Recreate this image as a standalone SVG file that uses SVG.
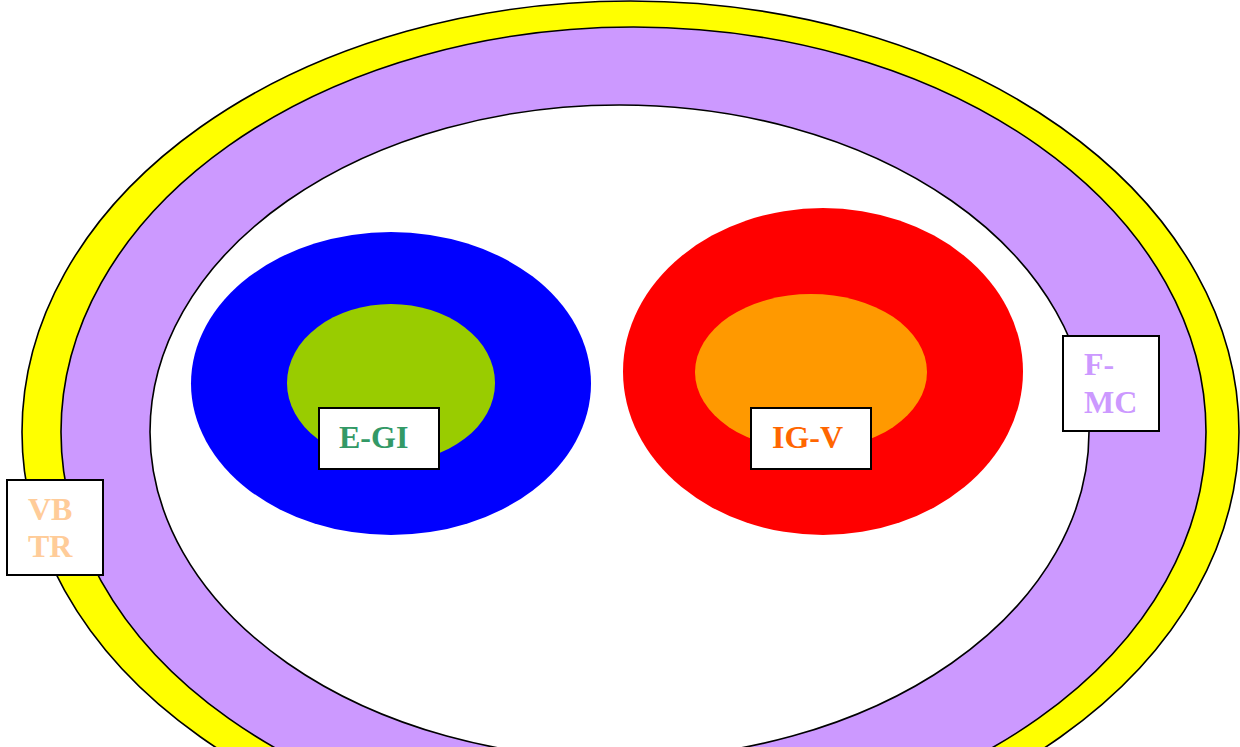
<svg xmlns="http://www.w3.org/2000/svg" width="1240" height="747" viewBox="0 0 1240 747">
<style>
.ring{stroke:#000;stroke-width:1.6}
.box{fill:#fff;stroke:#000;stroke-width:2}
.lbl{font-family:"Liberation Serif","Times New Roman",serif;font-weight:bold;font-size:32px}
</style>
<rect width="1240" height="747" fill="#fff"/>
<g id="outer-yellow"><ellipse class="ring" cx="630.5" cy="432" rx="608.5" ry="431" fill="#FFFF00"/></g>
<g id="purple-ring"><ellipse class="ring" cx="633.5" cy="432" rx="572.5" ry="405" fill="#CC99FF"/></g>
<g id="inner-white"><ellipse class="ring" cx="619.5" cy="432" rx="469.5" ry="327" fill="#fff"/></g>
<g id="blue-group">
<ellipse cx="391" cy="383.5" rx="200" ry="151.5" fill="#0000FF"/>
<ellipse cx="391" cy="383" rx="104" ry="79" fill="#99CC00"/>
</g>
<g id="red-group">
<ellipse cx="823" cy="371.5" rx="200" ry="163.5" fill="#FF0000"/>
<ellipse cx="811" cy="372" rx="116" ry="78" fill="#FF9900"/>
</g>
<g id="connectors"></g>
<g id="label-egi">
<rect class="box" x="319" y="408" width="120" height="61"/>
<text class="lbl" x="339" y="448" fill="#339966">E-GI</text>
</g>
<g id="label-igv">
<rect class="box" x="751" y="408" width="120" height="61"/>
<text class="lbl" x="772" y="448" fill="#FF6600">IG-V</text>
</g>
<g id="label-fmc">
<rect class="box" x="1063" y="336" width="96" height="95"/>
<text class="lbl" fill="#CC99FF"><tspan x="1084" y="375">F-</tspan><tspan x="1084" y="413">MC</tspan></text>
</g>
<g id="label-vbtr">
<rect class="box" x="7" y="480" width="96" height="95"/>
<text class="lbl" fill="#FFCC99"><tspan x="28" y="520">VB</tspan><tspan x="28" y="557">TR</tspan></text>
</g>
</svg>
